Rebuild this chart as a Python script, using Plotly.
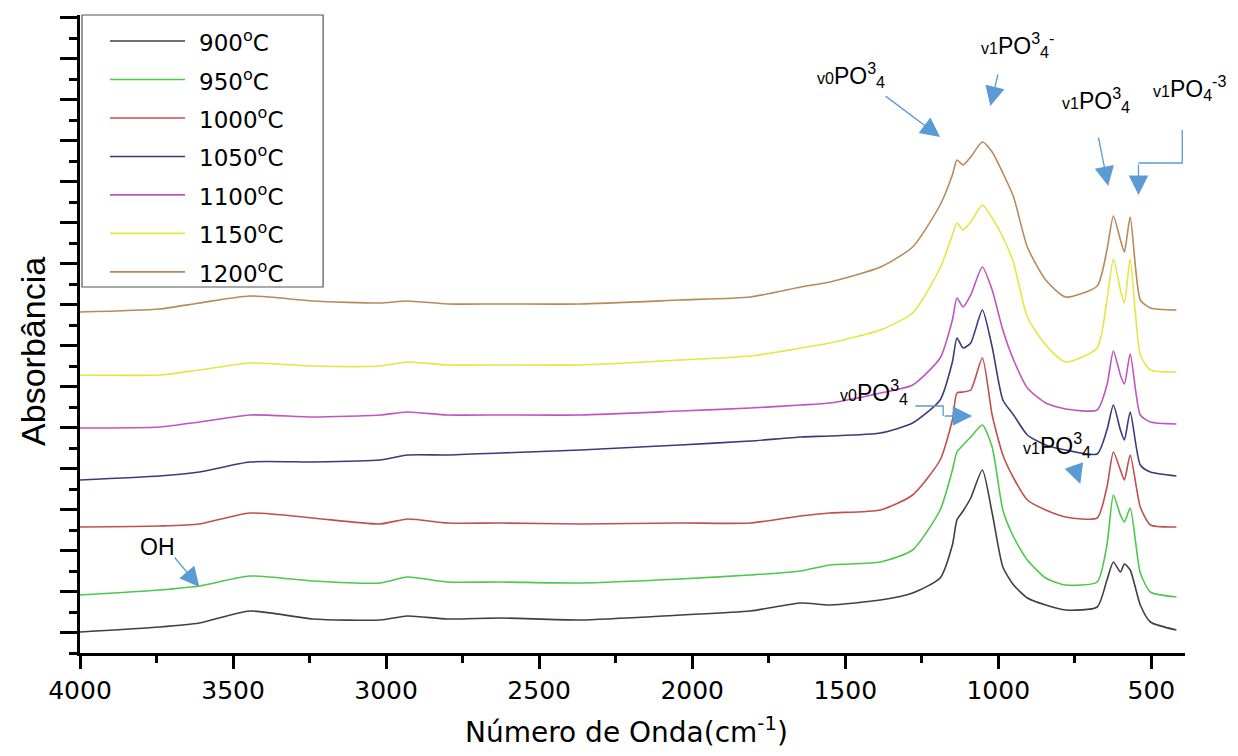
import plotly.graph_objects as go

# wavenumber grid (cm-1)
wavenumber = [4000, 3740, 3610, 3445, 3240, 3020, 2930, 2800, 2625, 2365, 2040, 1810, 1645, 1550,
              1385, 1280, 1190, 1150, 1135, 1115, 1090, 1052, 1020, 985, 950, 905, 845, 780, 677,
              645, 624, 601, 588, 569, 536, 503, 418]

labels = ["900<sup>o</sup>C", "950<sup>o</sup>C", "1000<sup>o</sup>C", "1050<sup>o</sup>C",
          "1100<sup>o</sup>C", "1150<sup>o</sup>C", "1200<sup>o</sup>C"]

abs_900 = [2.1, 2.6, 3.0, 4.2, 3.4, 3.3, 3.7, 3.4, 3.5, 3.3, 3.8, 4.2, 5.0, 4.8, 5.3, 6.0, 7.5, 10.8,
           13.3, 14.2, 15.5, 18.3, 14.0, 8.6, 6.8, 5.5, 4.8, 4.3, 4.6, 7.3, 9.1, 8.1, 8.9, 8.3, 4.8, 3.1, 2.3]
abs_950 = [5.8, 6.3, 6.7, 7.7, 7.2, 7.0, 7.6, 7.1, 7.1, 7.0, 7.4, 7.8, 8.2, 8.8, 9.1, 10.3, 14.3, 18.3,
           20.1, 20.8, 21.6, 22.8, 20.6, 14.3, 11.6, 9.3, 7.5, 6.8, 7.1, 10.8, 15.8, 13.8, 13.1, 14.5, 8.0, 6.1, 5.6]
abs_1000 = [12.6, 12.7, 12.9, 14.0, 13.5, 12.9, 13.4, 13.0, 13.0, 12.9, 13.0, 13.0, 13.7, 14.0, 14.3, 15.8,
            19.3, 23.3, 26.0, 26.1, 26.3, 29.5, 23.8, 19.8, 17.5, 15.3, 14.3, 13.6, 13.5, 16.6, 20.1, 18.3,
            17.3, 19.8, 14.6, 12.8, 12.6]
abs_1050 = [17.3, 17.7, 18.1, 19.1, 19.1, 19.3, 19.8, 19.8, 20.0, 20.3, 20.8, 21.2, 21.6, 21.7, 22.0, 23.0,
            25.3, 29.1, 31.5, 30.5, 31.0, 34.3, 30.6, 25.3, 23.8, 21.8, 20.8, 20.3, 19.9, 22.3, 24.8, 22.3,
            21.3, 24.1, 18.8, 18.1, 17.7]
abs_1100 = [22.5, 22.6, 23.1, 23.8, 23.6, 23.8, 24.1, 23.8, 23.8, 23.8, 24.2, 24.5, 24.8, 25.0, 26.0, 26.8,
            29.5, 33.3, 35.5, 34.6, 35.8, 38.6, 36.3, 32.3, 29.3, 26.5, 25.0, 24.4, 24.3, 26.8, 30.2, 27.8,
            26.9, 29.9, 23.8, 23.1, 22.9]
abs_1150 = [27.8, 27.8, 28.3, 29.0, 28.7, 28.7, 29.1, 28.8, 28.8, 28.8, 29.3, 29.7, 30.5, 31.0, 32.3, 34.0,
            38.5, 41.8, 43.0, 42.3, 43.1, 44.8, 43.5, 41.6, 39.0, 33.6, 30.8, 29.1, 30.5, 35.3, 39.4, 36.3,
            35.0, 39.4, 29.8, 28.3, 28.1]
abs_1200 = [34.1, 34.4, 35.0, 35.7, 35.2, 35.0, 35.2, 34.9, 34.9, 34.9, 35.3, 35.6, 36.6, 37.1, 38.6, 40.6,
            44.8, 47.8, 49.3, 48.8, 49.6, 51.1, 50.1, 48.0, 45.6, 40.6, 37.3, 35.6, 36.7, 40.3, 43.7, 41.3,
            40.1, 43.6, 35.3, 34.5, 34.3]

series = [abs_900, abs_950, abs_1000, abs_1050, abs_1100, abs_1150, abs_1200]
colors = ["#404040", "#4cc94c", "#c0504d", "#3b3b7a", "#c055c0", "#e5e545", "#b88a5a"]

xticks = [4000, 3500, 3000, 2500, 2000, 1500, 1000, 500]

fig = go.Figure()
for name, ys, c in zip(labels, series, colors):
    fig.add_trace(go.Scatter(x=wavenumber, y=ys, mode="lines", name=name,
                             line=dict(color=c, width=1.6, shape="spline", smoothing=0.6),
                             showlegend=False))

FONT = "DejaVu Sans, Liberation Sans, Arial"
shapes = []
annotations = []

# manual legend (box, line samples, labels)
shapes.append(dict(type="rect", xref="paper", yref="paper", x0=0.0018, x1=0.22, y0=0.5737, y1=1.0,
                   line=dict(color="#555555", width=1.2), fillcolor="white", layer="above"))
for i, (name, c) in enumerate(zip(labels, colors)):
    yy = 0.9592 - i * 0.0603
    shapes.append(dict(type="line", xref="paper", yref="paper", x0=0.0271, x1=0.095, y0=yy, y1=yy,
                       line=dict(color=c, width=1.6), layer="above"))
    annotations.append(dict(xref="paper", yref="paper", x=0.1059, y=yy, xanchor="left", yanchor="middle",
                            text=name, showarrow=False, font=dict(family=FONT, size=23, color="black")))

# axis titles
annotations.append(dict(xref="paper", yref="paper", x=0.495, y=-0.121, xanchor="center", yanchor="middle",
                        text="Número de Onda(cm<sup>-1</sup>)", showarrow=False,
                        font=dict(family=FONT, size=28, color="black")))
annotations.append(dict(xref="paper", yref="paper", x=-0.0425, y=0.472, xanchor="center", yanchor="middle",
                        text="Absorbância", textangle=-90, showarrow=False,
                        font=dict(family="Liberation Sans Narrow, Liberation Sans, Arial", size=34, color="black")))

AF = "Liberation Sans, Arial"
def lbl(sub, rest):
    return "<span style='font-size:16px'>" + sub + "</span>" + rest

texts = [
    (851, 75, "center", lbl("v0", "PO<sup>3</sup><sub>4</sub>")),
    (1017, 45, "center", lbl("v1", "PO<sup>3</sup><sub>4</sub><sup>-</sup>")),
    (1096, 100, "center", lbl("v1", "PO<sup>3</sup><sub>4</sub>")),
    (1228, 88, "right", lbl("v1", "PO<sub>4</sub><sup>-3</sup>")),
    (874, 392, "center", lbl("v0", "PO<sup>3</sup><sub>4</sub>")),
    (1057, 445, "center", lbl("v1", "PO<sup>3</sup><sub>4</sub>")),
    (157, 547, "center", "OH"),
]
for px, py, anchor, t in texts:
    annotations.append(dict(xref="paper", yref="paper", x=(px - 80) / 1105, y=(653 - py) / 638,
                            xanchor=anchor, yanchor="middle", text=t, showarrow=False,
                            font=dict(family=AF, size=23, color="black")))

ARROW = "#5b9bd5"
arrows = [  # head (wavenumber, y), tail offset in px
    (1190, 51.6, -56, -42),
    (1026, 54.7, 8, -33),
    (641, 46.7, -10, -50),
    (542, 45.8, 0, -32),
    (1085, 23.7, -29, 0),
    (732, 16.9, -7, -20),
    (3610, 6.6, -26, -31),
]
for hx, hy, ax, ay in arrows:
    annotations.append(dict(x=hx, y=hy, xref="x", yref="y", ax=ax, ay=ay, text="", showarrow=True,
                            arrowhead=2, arrowsize=3, arrowwidth=1.3, arrowcolor=ARROW))

# elbow connectors
shapes.append(dict(type="path", xref="x", yref="y", path="M 399,52.3 L 399,49.0 L 542,49.0",
                   line=dict(color=ARROW, width=1.3)))
shapes.append(dict(type="path", xref="x", yref="y", path="M 1271,24.7 L 1180,24.7 L 1180,23.7",
                   line=dict(color=ARROW, width=1.3)))

# the page body adds an 8 px margin, so the figure is sized to fit inside the window
fig.update_layout(
    width=1222, height=740,
    margin=dict(l=72, r=45, t=7, b=95),
    plot_bgcolor="white", paper_bgcolor="white",
    shapes=shapes, annotations=annotations,
    font=dict(family=FONT, color="black"),
    xaxis=dict(range=[4000, 390], tickvals=xticks, ticktext=[str(v) for v in xticks],
               ticks="outside", ticklen=13, tickwidth=2.5, tickcolor="black",
               minor=dict(dtick=250, tick0=0, ticks="outside", ticklen=7, tickwidth=2.5, tickcolor="black"),
               showline=True, linecolor="black", linewidth=3, showgrid=False, zeroline=False,
               tickfont=dict(family=FONT, size=25, color="black")),
    yaxis=dict(range=[0, 63.8], showticklabels=False, tick0=2.05, dtick=4.1,
               ticks="outside", ticklen=17, tickwidth=2.5, tickcolor="black",
               minor=dict(tick0=0, dtick=2.05, ticks="outside", ticklen=8, tickwidth=2.5, tickcolor="black"),
               showline=True, linecolor="black", linewidth=3, showgrid=False, zeroline=False),
)

fig.write_html("out.html")
